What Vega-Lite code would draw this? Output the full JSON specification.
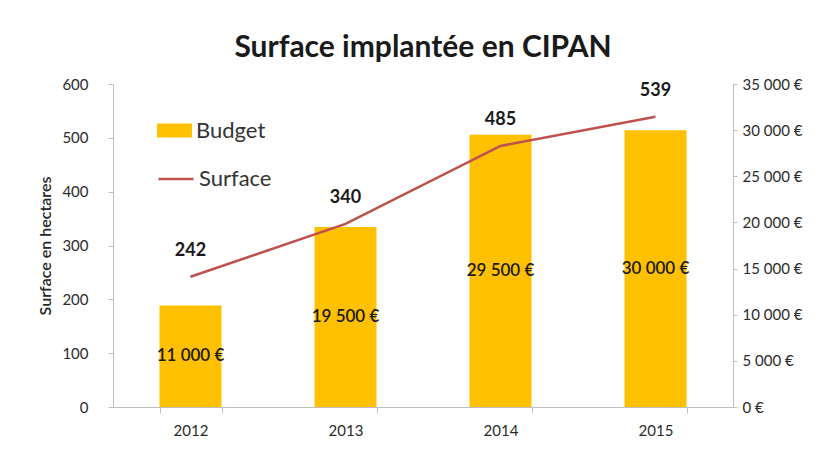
{
  "$schema": "https://vega.github.io/schema/vega-lite/v6.json",
  "width": 620,
  "height": 323,
  "autosize": {"type": "none"},
  "padding": {"left": 113, "top": 84, "right": 90, "bottom": 43},
  "background": "white",
  "title": {
    "text": "Surface implantée en CIPAN",
    "fontSize": 30,
    "fontWeight": "bold",
    "color": "#1a1a1a",
    "anchor": "middle",
    "frame": "group",
    "offset": 14
  },
  "config": {
    "font": "Lato",
    "view": {"stroke": null},
    "locale": {
      "number": {"decimal": ",", "thousands": " ", "grouping": [3], "currency": ["", " €"]}
    },
    "axis": {
      "grid": false,
      "domainColor": "#BFBFBF",
      "tickColor": "#BFBFBF",
      "labelColor": "#2a2a2a",
      "labelFontSize": 15,
      "titleColor": "#262626"
    }
  },
  "data": {
    "values": [
      {"year": "2012", "surface": 242, "budget": 11000},
      {"year": "2013", "surface": 340, "budget": 19500},
      {"year": "2014", "surface": 485, "budget": 29500},
      {"year": "2015", "surface": 539, "budget": 30000}
    ]
  },
  "encoding": {
    "x": {
      "field": "year",
      "type": "ordinal",
      "scale": {"paddingInner": 0.6, "paddingOuter": 0.3},
      "axis": {"title": null, "labelAngle": 0, "tickBand": "extent", "tickSize": 6, "labelPadding": 10}
    }
  },
  "layer": [
    {
      "encoding": {
        "y": {
          "field": "budget",
          "type": "quantitative",
          "scale": {"domain": [0, 35000]},
          "axis": {"orient": "right", "title": null, "format": "$,d", "values": [0, 5000, 10000, 15000, 20000, 25000, 30000, 35000], "tickSize": 4, "labelPadding": 5}
        }
      },
      "layer": [
        {
          "mark": {"type": "bar"},
          "encoding": {
            "fill": {
              "datum": "Budget",
              "scale": {"range": ["#FFC000"]},
              "legend": {
                "orient": "none", "legendX": 44, "legendY": 29, "title": null,
                "symbolType": "M-1,-0.4H1V0.4H-1Z", "symbolSize": 1225,
                "symbolStrokeWidth": 0, "labelFontSize": 22, "labelColor": "#333333",
                "labelOffset": 4, "padding": 0
              }
            }
          }
        },
        {
          "transform": [{"calculate": "datum.budget / 2", "as": "mid"}],
          "mark": {"type": "text", "fontSize": 17, "fontWeight": 600, "color": "#1a1a1a", "baseline": "middle"},
          "encoding": {
            "y": {"field": "mid", "type": "quantitative"},
            "text": {"field": "budget", "type": "quantitative", "format": "$,d"}
          }
        }
      ]
    },
    {
      "encoding": {
        "y": {
          "field": "surface",
          "type": "quantitative",
          "scale": {"domain": [0, 600]},
          "axis": {"orient": "left", "title": "Surface en hectares", "titleFontSize": 16, "titleFontWeight": 600, "values": [0, 100, 200, 300, 400, 500, 600], "tickSize": 5, "labelPadding": 20, "titlePadding": 8}
        }
      },
      "layer": [
        {
          "mark": {"type": "line", "strokeWidth": 2.5},
          "encoding": {
            "stroke": {
              "datum": "Surface",
              "scale": {"range": ["#C0504D"]},
              "legend": {
                "orient": "none", "legendX": 44, "legendY": 76, "title": null,
                "symbolType": "stroke", "symbolSize": 1225, "symbolStrokeWidth": 2.5,
                "labelFontSize": 22, "labelColor": "#333333", "labelOffset": 4, "padding": 0
              }
            }
          }
        },
        {
          "mark": {"type": "text", "fontSize": 18, "fontWeight": "bold", "color": "#1a1a1a", "baseline": "middle", "dy": -26},
          "encoding": {
            "text": {"field": "surface", "type": "quantitative"}
          }
        }
      ]
    }
  ],
  "resolve": {"scale": {"y": "independent"}}
}
